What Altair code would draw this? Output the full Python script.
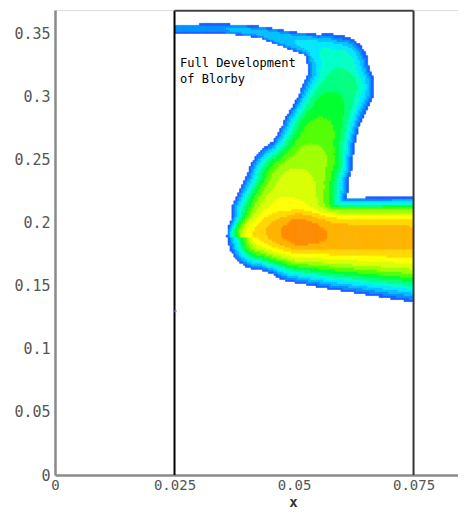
import numpy as np
import pandas as pd
import altair as alt

# ---- values (data units) ----
# strand 1: upper band + diagonal (centre x, centre y, half width in y-units, peak value)
S1_X = [0.0240, 0.03515, 0.04289, 0.04979, 0.05356, 0.05690, 0.05921, 0.05963, 0.05732, 0.05523, 0.05356, 0.05063, 0.04895]
S1_Y = [0.3540, 0.3544, 0.3516, 0.3444, 0.3413, 0.3333, 0.3246, 0.3079, 0.2897, 0.2706, 0.2500, 0.2286, 0.2040]
S1_HW = [0.0032, 0.0036, 0.0044, 0.0071, 0.0090, 0.0170, 0.0240, 0.0272, 0.0268, 0.0294, 0.0333, 0.0405, 0.0460]
S1_PEAK = [0.12, 0.14, 0.17, 0.21, 0.25, 0.30, 0.35, 0.41, 0.48, 0.54, 0.61, 0.68, 0.78]

# strand 2: lower horizontal band
S2_X = [0.04310, 0.05126, 0.05962, 0.07594]
S2_Y = [0.1889, 0.1889, 0.1865, 0.1857]
S2_HW_UP = [0.0270, 0.0317, 0.0333, 0.0349]
S2_HW_DOWN = [0.0262, 0.0365, 0.0400, 0.0492]
S2_PEAK = [0.78, 0.965, 0.91, 0.89]

LEVEL_COLORS = ["#1a5cff", "#0090ff", "#00bfff", "#00e8ff", "#00ffc8", "#00ff80", "#00ff30",
                "#50ff00", "#a0ff00", "#d8ff00", "#ffff00", "#ffd800", "#ffb400", "#ff8c00"]

X_TICKS = [0, 0.025, 0.05, 0.075]
Y_TICKS = [0, 0.05, 0.1, 0.15, 0.2, 0.25, 0.3, 0.35]
X_DOMAIN = [0, 0.0843]
Y_DOMAIN = [0, 0.369]

BOX_X1 = [0.025, 0.075, 0.025]
BOX_X2 = [0.025, 0.075, 0.075]
BOX_Y1 = [0.0, 0.0, 0.3685]
BOX_Y2 = [0.3685, 0.3685, 0.3685]
BOX_COLOR = ["#000000", "#333333", "#444444"]

NOTE_LINES = ["Full Development", "of Blorby"]
NOTE_X = [0.02615, 0.02615]
NOTE_Y = [0.3235, 0.3108]

SPECK_X = [0.0252]
SPECK_Y = [0.1300]

GRID_X = (0.025, 0.075, 0.0004)
GRID_Y = (0.12, 0.37, 0.0016)
ASPECT = 4780 / 1260
UNION_POWER = 6


def strand_field(GX, GY, xs, ys, hw_up, hw_dn, peaks, e_up, e_dn):
    F = np.zeros_like(GX)
    px, py = GX * ASPECT, GY
    for i in range(len(xs) - 1):
        ax, ay = xs[i] * ASPECT, ys[i]
        bx, by = xs[i + 1] * ASPECT, ys[i + 1]
        dx, dy = bx - ax, by - ay
        L2 = dx * dx + dy * dy
        t = np.clip(((px - ax) * dx + (py - ay) * dy) / L2, 0, 1)
        cx, cy = ax + t * dx, ay + t * dy
        d = np.hypot(px - cx, py - cy)
        up = py >= cy
        hu = hw_up[i] + t * (hw_up[i + 1] - hw_up[i])
        hd = hw_dn[i] + t * (hw_dn[i + 1] - hw_dn[i])
        h = np.where(up, hu, hd)
        e = np.where(up, e_up, e_dn)
        pk = peaks[i] + t * (peaks[i + 1] - peaks[i])
        r = np.clip(d / h, 0, 1)
        F = np.maximum(F, pk * (1 - r ** e))
    return F


xe = np.arange(GRID_X[0], GRID_X[1] + 1e-9, GRID_X[2])
ye = np.arange(GRID_Y[0], GRID_Y[1] + 1e-9, GRID_Y[2])
xc = (xe[:-1] + xe[1:]) / 2
yc = (ye[:-1] + ye[1:]) / 2
GX, GY = np.meshgrid(xc, yc)
F1 = strand_field(GX, GY, S1_X, S1_Y, S1_HW, S1_HW, S1_PEAK, 3.0, 3.0)
F2 = strand_field(GX, GY, S2_X, S2_Y, S2_HW_UP, S2_HW_DOWN, S2_PEAK, 3.0, 1.6)
F = np.minimum((F1 ** UNION_POWER + F2 ** UNION_POWER) ** (1 / UNION_POWER), 0.999)
n = len(LEVEL_COLORS)
lev = np.clip(np.floor(F * n), 0, n - 1).astype(int)
mask = F > 0.004
ii, jj = np.nonzero(mask)
cells = pd.DataFrame({
    "x": xe[jj], "x2": xe[jj + 1],
    "y": ye[ii], "y2": ye[ii + 1],
    "level": lev[ii, jj],
})

xs = alt.Scale(domain=X_DOMAIN, nice=False, zero=False)
ys = alt.Scale(domain=Y_DOMAIN, nice=False, zero=False)
cscale = alt.Scale(domain=list(range(n)), range=LEVEL_COLORS)

heat = alt.Chart(cells).mark_rect(strokeWidth=0.6).encode(
    x=alt.X("x:Q", scale=xs, title="x",
            axis=alt.Axis(values=X_TICKS, labelExpr="'' + datum.value", grid=False, ticks=False,
                          labelPadding=3, labelFlush=False, domainColor="#8a8a8a",
                          domainWidth=2.5, labelFont="DejaVu Sans Mono", labelFontSize=14,
                          labelColor="#555555", titleFont="DejaVu Sans Mono",
                          titleFontSize=14, titleFontWeight="bold", titleColor="#333333",
                          titleBaseline="alphabetic", titleAlign="center",
                          titleX=238, titleY=31)),
    x2="x2:Q",
    y=alt.Y("y:Q", scale=ys, title=None,
            axis=alt.Axis(values=Y_TICKS, labelExpr="'' + datum.value", grid=False, ticks=False,
                          labelPadding=5, labelFlush=False, domainColor="#8a8a8a",
                          domainWidth=2.5, labelFont="DejaVu Sans Mono", labelFontSize=15,
                          labelColor="#555555")),
    y2="y2:Q",
    color=alt.Color("level:O", scale=cscale, legend=None),
    stroke=alt.Stroke("level:O", scale=cscale, legend=None),
)

box_df = pd.DataFrame({"x": BOX_X1, "x2": BOX_X2, "y": BOX_Y1, "y2": BOX_Y2, "c": BOX_COLOR})
box = alt.Chart(box_df).mark_rule(strokeWidth=2).encode(
    x=alt.X("x:Q", scale=xs), x2="x2:Q",
    y=alt.Y("y:Q", scale=ys), y2="y2:Q",
    color=alt.Color("c:N", scale=None),
)

note_df = pd.DataFrame({"t": NOTE_LINES, "x": NOTE_X, "y": NOTE_Y})
note = alt.Chart(note_df).mark_text(align="left", baseline="alphabetic",
                                     font="DejaVu Sans Mono", fontSize=12,
                                     color="#000000").encode(
    x=alt.X("x:Q", scale=xs), y=alt.Y("y:Q", scale=ys), text="t:N")

speck_df = pd.DataFrame({"x": SPECK_X, "y": SPECK_Y})
speck = alt.Chart(speck_df).mark_square(size=5, color="#5a8cff", opacity=0.8).encode(
    x=alt.X("x:Q", scale=xs), y=alt.Y("y:Q", scale=ys))

chart = alt.layer(heat, box, note, speck).properties(
    width=403, height=465,
    padding={"left": 47, "top": 2, "right": 0, "bottom": 33},
    autosize=alt.AutoSizeParams(type="none"),
).configure_view(stroke=None).configure(background="white")

chart.save("out.html", embed_options={"renderer": "svg", "actions": False})
